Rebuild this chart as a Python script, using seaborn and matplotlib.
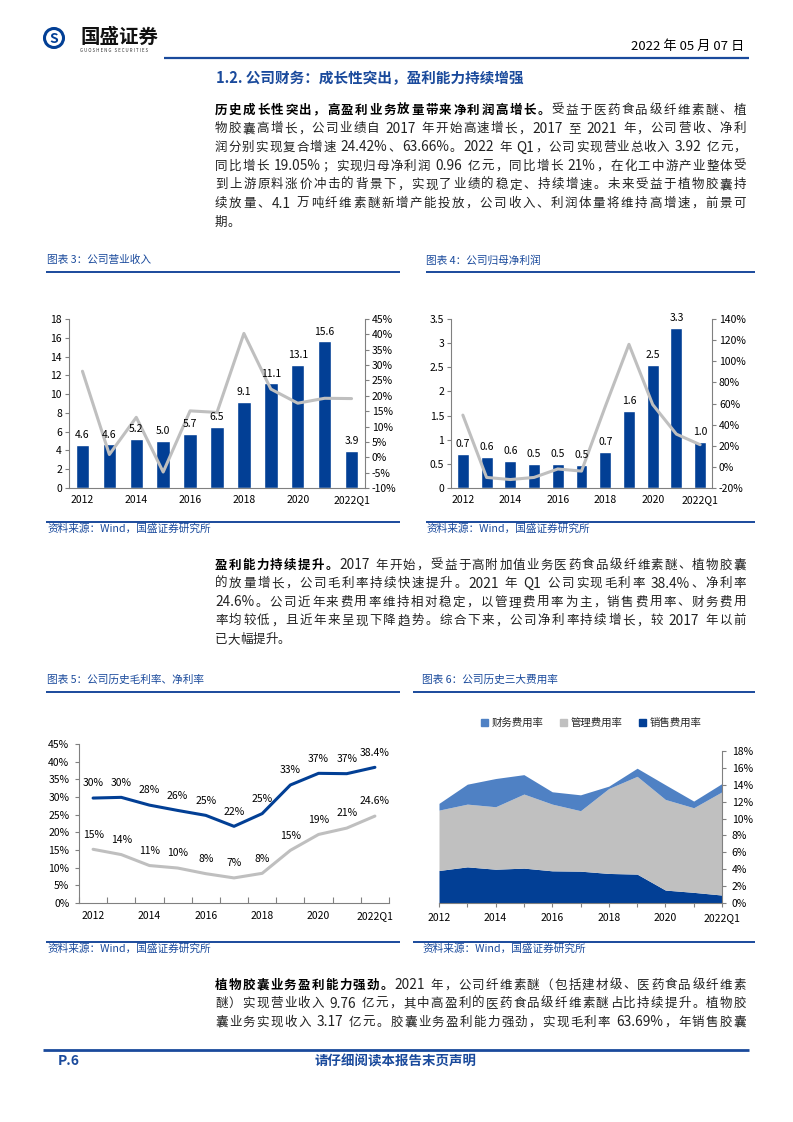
import re
import numpy as np
import matplotlib
matplotlib.use('Agg')
import matplotlib.pyplot as plt
from matplotlib.patches import Patch, Circle
from matplotlib.lines import Line2D
from matplotlib.ticker import FuncFormatter
import seaborn as sns

# dados
years = ['2012', '2013', '2014', '2015', '2016', '2017', '2018', '2019', '2020', '2021', '2022Q1']
revenue = [4.62, 4.64, 5.24, 5.03, 5.73, 6.52, 9.14, 11.14, 13.12, 15.61, 3.92]  # 营业总收入(亿元)
revenue_yoy = [28.0, 0.9, 13.0, -4.8, 15.1, 14.6, 40.3, 22.2, 17.6, 19.2, 19.1]
net_profit = [0.70, 0.64, 0.565, 0.50, 0.496, 0.475, 0.744, 1.605, 2.54, 3.31, 0.96]  # 归母净利润(亿元)
profit_yoy = [49, -10, -12, -10, -2, -4, 57, 116, 59, 31, 21]
gross_margin = [29.7, 29.9, 27.7, 26.2, 24.8, 21.7, 25.3, 33.4, 36.7, 36.6, 38.4]
net_margin = [15.2, 13.7, 10.6, 9.9, 8.3, 7.1, 8.4, 14.9, 19.4, 21.2, 24.6]
sales_rate = [3.85, 4.28, 4.0, 4.13, 3.81, 3.77, 3.5, 3.42, 1.53, 1.26, 0.94]
admin_rate = [7.15, 7.43, 7.4, 8.77, 7.9, 7.16, 10.06, 11.58, 10.73, 10.02, 12.23]
finance_rate = [0.8, 2.36, 3.34, 2.3, 1.46, 1.88, 0.28, 0.96, 1.74, 0.79, 0.98]

BLUE = '#023F95'
GREY = '#BFBFBF'
LBLUE = '#4F81C4'
TBLUE = '#1A4A9C'
AXC = '#808080'
FS = 7.5

sns.set_theme(style='white')
plt.rcParams['font.family'] = ['Noto Sans CJK SC', 'DejaVu Sans']
plt.rcParams['axes.unicode_minus'] = False

W, H = 793, 1122
fig = plt.figure(figsize=(W / 100, H / 100), dpi=100)
fig.patch.set_facecolor('white')
page = fig.add_axes([0, 0, 1, 1])  # eixo da pagina em pixels
page.set_xlim(0, W)
page.set_ylim(H, 0)
page.axis('off')
renderer = fig.canvas.get_renderer()


def chart_axes(x0, y0, x1, y1):
    return fig.add_axes([x0 / W, 1 - y1 / H, (x1 - x0) / W, (y1 - y0) / H])


def hline(x0, x1, y, lw=1.4):
    page.plot([x0, x1], [y, y], color=TBLUE, lw=lw, solid_capstyle='butt')


def text_line(y, parts, justify=True, x0=215, x1=746, size=9):
    # desenha uma linha de texto justificada (cada caractere chines separado)
    tokens = []
    for txt, weight, color in parts:
        for tok in re.findall(r'[0-9A-Za-z.%]+| |.', txt):
            tokens.append((tok, weight, color))
    widths, sizes = [], []
    for tok, weight, color in tokens:
        fs = size * 1.1 if re.match(r'[0-9A-Za-z.%]', tok) else size  # numeros um pouco maiores
        sizes.append(fs)
        if tok == ' ':
            widths.append(size * 100 / 72 * 0.25)
        else:
            t = page.text(0, 0, tok, fontsize=fs, fontweight=weight)
            widths.append(t.get_window_extent(renderer=renderer).width)
            t.remove()
    gap = (x1 - x0 - sum(widths)) / (len(tokens) - 1) if justify and len(tokens) > 1 else 0
    x = x0
    for (tok, weight, color), w, fs in zip(tokens, widths, sizes):
        if tok != ' ':
            page.text(x, y, tok, fontsize=fs, fontweight=weight, color=color, ha='left', va='center')
        x += w + gap


N = ('normal', '#222222')
B = ('bold', 'black')

# cabecalho
page.add_patch(Circle((54, 38), 9.5, fill=False, ec=BLUE, lw=2.2))
page.text(54, 38.5, 'S', fontsize=10, fontweight='bold', color=BLUE, ha='center', va='center')
page.text(80, 37, '国盛证券', fontsize=14, fontweight='bold', color='#111111', ha='left', va='center')
page.text(80, 50, 'G U O S H E N G   S E C U R I T I E S', fontsize=3.2, color='#333333', ha='left', va='center')
page.text(744, 46, '2022 年 05 月 07 日', fontsize=9.5, color='black', ha='right', va='center')
hline(164, 749, 58, lw=1.6)

page.text(216, 78, '1.2. 公司财务：成长性突出，盈利能力持续增强', fontsize=10.5, fontweight='bold',
          color=TBLUE, ha='left', va='center')

para1 = [
    [('历史成长性突出，高盈利业务放量带来净利润高增长。',) + B, ('受益于医药食品级纤维素醚、植',) + N],
    [('物胶囊高增长，公司业绩自 2017 年开始高速增长，2017 至 2021 年，公司营收、净利',) + N],
    [('润分别实现复合增速 24.42%、63.66%。2022 年 Q1，公司实现营业总收入 3.92 亿元，',) + N],
    [('同比增长 19.05%；实现归母净利润 0.96 亿元，同比增长 21%，在化工中游产业整体受',) + N],
    [('到上游原料涨价冲击的背景下，实现了业绩的稳定、持续增速。未来受益于植物胶囊持',) + N],
    [('续放量、4.1 万吨纤维素醚新增产能投放，公司收入、利润体量将维持高增速，前景可',) + N],
    [('期。',) + N],
]
for i, parts in enumerate(para1):
    text_line(110 + i * 18.7, parts, justify=i < len(para1) - 1)

para2 = [
    [('盈利能力持续提升。',) + B, ('2017 年开始，受益于高附加值业务医药食品级纤维素醚、植物胶囊',) + N],
    [('的放量增长，公司毛利率持续快速提升。2021 年 Q1 公司实现毛利率 38.4%、净利率',) + N],
    [('24.6%。公司近年来费用率维持相对稳定，以管理费用率为主，销售费用率、财务费用',) + N],
    [('率均较低，且近年来呈现下降趋势。综合下来，公司净利率持续增长，较 2017 年以前',) + N],
    [('已大幅提升。',) + N],
]
for i, parts in enumerate(para2):
    text_line(565 + i * 18.6, parts, justify=i < len(para2) - 1)

para3 = [
    [('植物胶囊业务盈利能力强劲。',) + B, ('2021 年，公司纤维素醚（包括建材级、医药食品级纤维素',) + N],
    [('醚）实现营业收入 9.76 亿元，其中高盈利的医药食品级纤维素醚占比持续提升。植物胶',) + N],
    [('囊业务实现收入 3.17 亿元。胶囊业务盈利能力强劲，实现毛利率 63.69%，年销售胶囊',) + N],
]
for i, parts in enumerate(para3):
    text_line(985 + i * 18.6, parts, justify=True)

# rodape
hline(43, 749, 1050, lw=2.0)
page.text(58, 1061, 'P.6', fontsize=10, fontweight='bold', color=TBLUE, ha='left', va='center')
page.text(396, 1061, '请仔细阅读本报告末页声明', fontsize=9.7, fontweight='bold', color=TBLUE,
          ha='center', va='center')

# molduras dos graficos: titulo, linhas e fonte
frames = [(47, 46, 400, 272, 522, '图表 3：公司营业收入'),
          (426, 426, 755, 272, 522, '图表 4：公司归母净利润'),
          (47, 46, 400, 692, 942, '图表 5：公司历史毛利率、净利率'),
          (422, 413, 755, 692, 942, '图表 6：公司历史三大费用率')]
for tx, lx0, lx1, ytop, ybot, title in frames:
    page.text(tx, ytop - 12, title, fontsize=7.7, color=TBLUE, ha='left', va='center')
    hline(lx0, lx1, ytop)
    hline(lx0, lx1, ybot)
    page.text(tx, ybot + 7, '资料来源：Wind，国盛证券研究所', fontsize=7.7, color=TBLUE, ha='left', va='center')

pct = FuncFormatter(lambda v, p: f'{v:.0f}%')
idx = np.arange(len(years))


def style_pair(ax, tw):
    for a in (ax, tw):
        a.set_xlabel('')
        a.set_ylabel('')
        a.set_facecolor('none')
        for s in a.spines.values():
            s.set_color(AXC)
            s.set_linewidth(0.8)
        a.spines['top'].set_visible(False)
    ax.spines['right'].set_visible(False)
    tw.spines['left'].set_visible(False)
    tw.spines['bottom'].set_visible(False)
    ax.tick_params(axis='y', left=True, length=3, width=0.8, color=AXC, labelsize=FS, pad=2, labelcolor='black')
    ax.tick_params(axis='x', bottom=False, length=0, labelsize=FS, pad=5, labelcolor='black')
    tw.tick_params(axis='y', right=True, length=3, width=0.8, color=AXC, labelsize=FS, pad=2, labelcolor='black')


def bar_chart(box, values, yoy, ylim, yticks, yoy_lim, yoy_ticks, left_fmt):
    ax = chart_axes(*box)
    sns.barplot(x=years, y=values, color=BLUE, saturation=1, width=0.5, ax=ax)
    ax.set_ylim(*ylim)
    ax.set_yticks(yticks)
    if left_fmt is not None:
        ax.yaxis.set_major_formatter(left_fmt)
    tw = ax.twinx()
    sns.lineplot(x=idx, y=yoy, color=GREY, lw=2.2, ax=tw)
    tw.set_ylim(*yoy_lim)
    tw.set_yticks(yoy_ticks)
    tw.yaxis.set_major_formatter(pct)
    ax.set_xticks(idx[::2])
    ax.set_xticklabels(years[::2])
    ax.set_xlim(-0.5, 10.5)
    # rotulos acima da linha (desenhados no eixo gemeo)
    for i, v in enumerate(values):
        tw.annotate(f'{v:.1f}', (i, v), xycoords=ax.transData, xytext=(0, 3.5), textcoords='offset points',
                    ha='center', va='bottom', fontsize=FS, color='black', zorder=5)
    style_pair(ax, tw)


bar_chart((69, 319, 365, 488), revenue, revenue_yoy, (0, 18), np.arange(0, 19, 2),
          (-10, 45), np.arange(-10, 46, 5), None)
page.legend([Patch(color=BLUE), Line2D([], [], color=GREY, lw=2.2)], ['营业总收入（亿元）', 'YOY'],
            loc='center', bbox_to_anchor=(222, 299), bbox_transform=page.transData, ncol=2, frameon=False,
            fontsize=FS, handlelength=2.6, handleheight=0.6, handletextpad=0.2, columnspacing=4)

bar_chart((451, 319, 712, 488), net_profit, profit_yoy, (0, 3.5), np.arange(0, 3.6, 0.5),
          (-20, 140), np.arange(-20, 141, 20), FuncFormatter(lambda v, p: f'{v:g}'))
page.legend([Patch(color=BLUE), Line2D([], [], color=GREY, lw=2.2)], ['归母净利润（亿元）', 'YOY'],
            loc='center', bbox_to_anchor=(588, 298), bbox_transform=page.transData, ncol=2, frameon=False,
            fontsize=FS, handlelength=2.6, handleheight=0.6, handletextpad=0.2, columnspacing=3.4)

# grafico 5: margens
ax = chart_axes(79, 744, 389, 903)
sns.lineplot(x=idx, y=gross_margin, color=BLUE, lw=2.2, ax=ax)
sns.lineplot(x=idx, y=net_margin, color=GREY, lw=2.2, ax=ax)
for series in (gross_margin, net_margin):
    for i, v in enumerate(series):
        lab = f'{v:.1f}%' if i == len(series) - 1 else f'{v:.0f}%'
        ax.annotate(lab, (i, v), xytext=(0, 7), textcoords='offset points', ha='center', va='bottom',
                    fontsize=FS, color='black')
ax.set_xlim(-0.5, 10.5)
ax.set_ylim(0, 45)
ax.set_yticks(np.arange(0, 46, 5))
ax.yaxis.set_major_formatter(pct)
ax.set_xticks(idx[::2])
ax.set_xticklabels(years[::2])
ax.set_xticks(np.arange(-0.5, 11, 1), minor=True)
ax.set_xlabel('')
ax.set_ylabel('')
for s in ax.spines.values():
    s.set_color(AXC)
    s.set_linewidth(0.8)
ax.spines['top'].set_visible(False)
ax.spines['right'].set_visible(False)
ax.tick_params(axis='y', left=True, length=3, width=0.8, color=AXC, labelsize=FS, pad=4, labelcolor='black')
ax.tick_params(axis='x', which='major', bottom=False, length=0, labelsize=FS, pad=6, labelcolor='black')
ax.tick_params(axis='x', which='minor', bottom=True, length=4, width=0.8, color=AXC, direction='in')
page.legend([Line2D([], [], color=BLUE, lw=2.2), Line2D([], [], color=GREY, lw=2.2)], ['毛利率', '净利率'],
            loc='center', bbox_to_anchor=(228, 718), bbox_transform=page.transData, ncol=2, frameon=False,
            fontsize=FS, handlelength=2.6, handletextpad=0.2, columnspacing=5.5)

# grafico 6: taxas de despesas
ax = chart_axes(439, 751, 722, 903)
ax.stackplot(idx, sales_rate, admin_rate, finance_rate, colors=[BLUE, '#C0C0C0', LBLUE], lw=0)
ax.set_xlim(0, 10)
ax.set_ylim(0, 18)
ax.set_yticks(np.arange(0, 19, 2))
ax.yaxis.set_major_formatter(pct)
ax.yaxis.tick_right()
ax.set_xticks(idx)
ax.set_xticklabels([y if i % 2 == 0 else '' for i, y in enumerate(years)])
for s in ax.spines.values():
    s.set_color(AXC)
    s.set_linewidth(0.8)
ax.spines['top'].set_visible(False)
ax.spines['left'].set_visible(False)
ax.tick_params(axis='x', bottom=True, length=3, width=0.8, color=AXC, labelsize=FS, pad=4, labelcolor='black')
ax.tick_params(axis='y', right=True, left=False, length=3, width=0.8, color=AXC, labelsize=FS, pad=4,
               labelcolor='black')
page.legend([Patch(color=LBLUE), Patch(color='#C0C0C0'), Patch(color=BLUE)], ['财务费用率', '管理费用率', '销售费用率'],
            loc='center', bbox_to_anchor=(591, 723), bbox_transform=page.transData, ncol=3, frameon=False,
            fontsize=FS, handlelength=0.7, handleheight=0.7, handletextpad=0.3, columnspacing=1.6)

fig.savefig('out.png', dpi=100)
